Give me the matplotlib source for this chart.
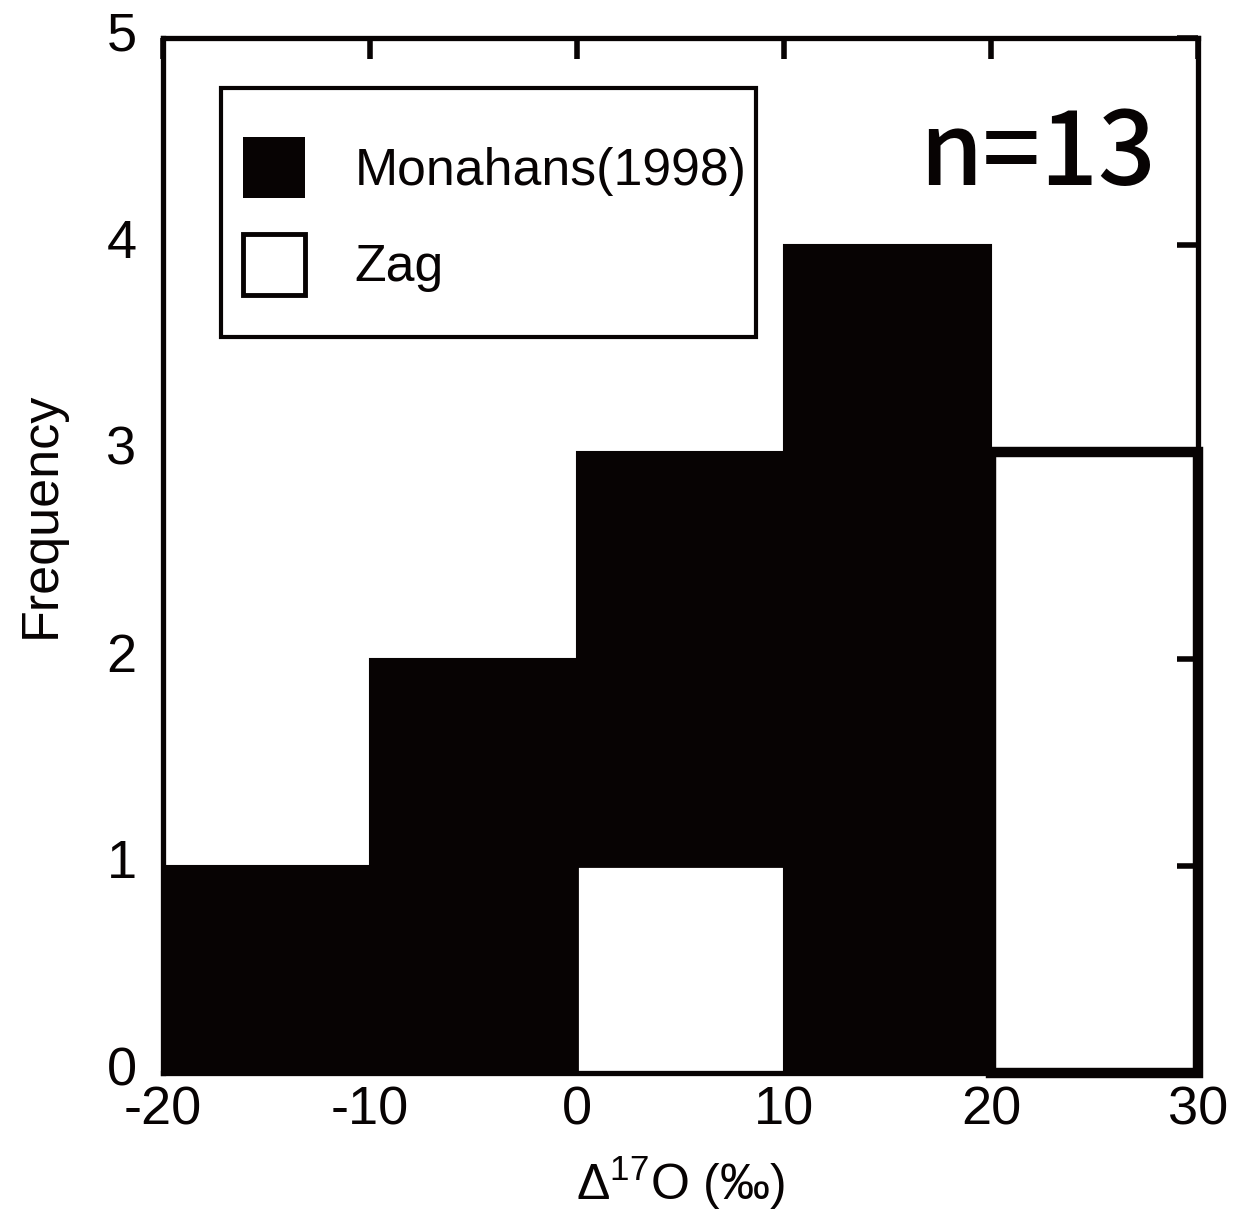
import matplotlib
matplotlib.use("Agg")
import matplotlib.pyplot as plt
from matplotlib.patches import Rectangle, Patch
from matplotlib.transforms import ScaledTranslation
import numpy as np

plt.rcParams['font.family'] = ['Liberation Sans', 'DejaVu Sans']
plt.rcParams['mathtext.fontset'] = 'custom'
plt.rcParams['mathtext.rm'] = 'Liberation Sans'
plt.rcParams['mathtext.it'] = 'Liberation Sans'
plt.rcParams['axes.unicode_minus'] = False

# Data
bin_edges = [-20, -10, 0, 10, 20, 30]
zag_counts = [0, 0, 1, 0, 3]
monahans_counts = [1, 2, 2, 4, 0]
series_labels = ["Monahans(1998)", "Zag"]
x_ticks = [-20, -10, 0, 10, 20, 30]
y_ticks = [0, 1, 2, 3, 4, 5]
n_text = "n=13"

INK = "#070303"

fig = plt.figure(figsize=(12.34, 12.10), dpi=100)
ax = fig.add_axes([163/1234, 1-1073/1210, 1035/1234, 1035/1210])

lefts = np.array(bin_edges[:-1])
widths = np.diff(bin_edges)

zag_lw = [0 if c == 0 else (2 if i < 4 else 7.5) for i, c in enumerate(zag_counts)]
ax.bar(lefts, zag_counts, width=widths, align='edge', color='white',
       edgecolor=INK, linewidth=zag_lw, zorder=2, clip_on=False)
mon_lw = [0 if c == 0 else 1.5 for c in monahans_counts]
ax.bar(lefts, monahans_counts, width=widths, align='edge', bottom=zag_counts,
       color=INK, edgecolor=INK, linewidth=mon_lw, zorder=3)

ax.set_xlim(-20, 30)
ax.set_ylim(0, 5)
ax.set_xticks(x_ticks)
ax.set_yticks(y_ticks)

for s in ax.spines.values():
    s.set_linewidth(3.8)
    s.set_color(INK)
    s.set_zorder(5)

ax.tick_params(axis='both', direction='in', length=15, width=4, color=INK,
               labelsize=39, labelcolor=INK, top=True, right=True,
               left=False, bottom=False)
ax.tick_params(axis='x', pad=9)
ax.tick_params(axis='y', pad=19)
ax.yaxis.set_zorder(4.5)
ax.xaxis.set_zorder(4.5)

# y tick labels sit slightly above their ticks in the reference
shift = ScaledTranslation(0, 7/100, fig.dpi_scale_trans)
for lab in ax.get_yticklabels():
    lab.set_transform(lab.get_transform() + shift)

ax.set_xlabel(r'$\Delta^{17}$O (‰)', fontsize=36, color=INK, labelpad=14)
ax.set_ylabel('Frequency', fontsize=37.5, color=INK)
ax.yaxis.set_label_coords(-0.094, 0.539)

# Legend (handles through library, frame drawn as box)
handles = [Patch(facecolor=INK, edgecolor=INK, linewidth=0),
           Patch(facecolor='white', edgecolor=INK, linewidth=3.5)]
leg = ax.legend(handles, series_labels, loc='upper left',
                bbox_to_anchor=((243-163)/1035, (1073-137)/1035),
                borderaxespad=0, borderpad=0, frameon=False, fontsize=37.3,
                handlelength=1.2, handleheight=1.435, handletextpad=0.95,
                labelspacing=0.69)
for t in leg.get_texts():
    t.set_color(INK)
leg.set_zorder(6)
frame = Rectangle(((221-163)/1035, (1073-337)/1035), (756-221)/1035, (337-88)/1035,
                  transform=ax.transAxes, facecolor='white', edgecolor=INK,
                  linewidth=3.0, zorder=5.5)
ax.add_patch(frame)

ax.text((1037-163)/1035, (1073-185)/1035, n_text, transform=ax.transAxes,
        fontsize=73, family=['Noto Sans CJK JP', 'DejaVu Sans'], fontweight='medium',
        color=INK, ha='center', va='baseline', zorder=7)

fig.savefig("out.png", dpi=100, facecolor='white')
